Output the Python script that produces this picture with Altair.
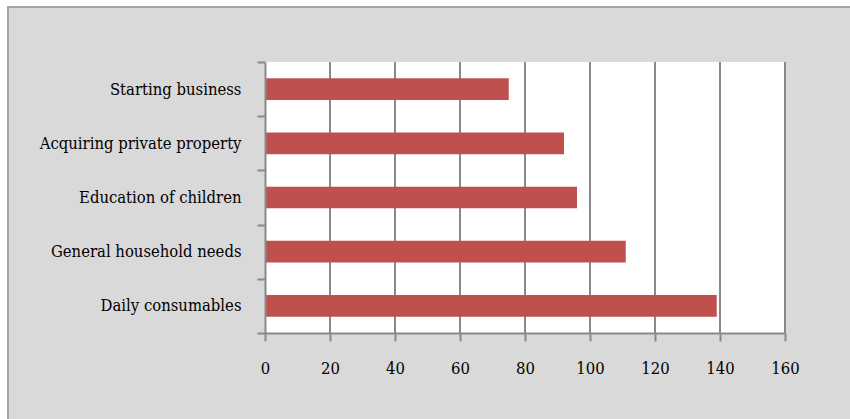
import altair as alt
import pandas as pd

# Reasons for taking loans (number of respondents)
categories = [
    "Starting business",
    "Acquiring private property",
    "Education of children",
    "General household needs",
    "Daily consumables",
]
counts = [75, 92, 96, 111, 139]
x_ticks = [0, 20, 40, 60, 80, 100, 120, 140, 160]

W, H = 520, 271
FONT = "DejaVu Serif Condensed"
BAR = "#c0504d"
GRID = "#898989"

bars_df = pd.DataFrame({"purpose": categories, "count": counts})
grid_df = pd.DataFrame({"tick": x_ticks[1:]})

# outer grey panel with its border
frame = alt.Chart(pd.DataFrame({"k": [0]})).mark_rect(
    fill="#d9d9d9", stroke="#a6a6a6", strokeWidth=2
).encode(
    x=alt.value(-257), x2=alt.value(620),
    y=alt.value(-55), y2=alt.value(400),
)

# white plotting area
plot_bg = alt.Chart(pd.DataFrame({"k": [0]})).mark_rect(fill="white").encode(
    x=alt.value(0), x2=alt.value(W), y=alt.value(0), y2=alt.value(H)
)

x_scale = alt.Scale(domain=[0, 160], nice=False)

# vertical gridlines behind the bars
grid = alt.Chart(grid_df).mark_rule(color=GRID, strokeWidth=2).encode(
    x=alt.X("tick:Q", scale=x_scale),
    y=alt.value(0), y2=alt.value(H),
)

bars = alt.Chart(bars_df).mark_bar(
    color=BAR, height=alt.RelativeBandSize(0.4)
).encode(
    x=alt.X(
        "count:Q", scale=x_scale,
        axis=alt.Axis(
            values=x_ticks, title=None, grid=False, tickSize=8,
            tickColor=GRID, tickWidth=2, domainColor=GRID, domainWidth=2,
            labelFont=FONT, labelFontSize=16.5, labelColor="black",
            labelPadding=19, labelFlush=False, zindex=1,
        ),
    ),
    y=alt.Y(
        "purpose:N", sort=categories,
        scale=alt.Scale(paddingInner=0, paddingOuter=0),
        axis=alt.Axis(
            title=None, tickBand="extent", tickSize=8, tickColor=GRID,
            tickWidth=2, domainColor=GRID, domainWidth=2,
            labelFont=FONT, labelFontSize=16.5, labelColor="black",
            labelPadding=16, zindex=1, labelLimit=300,
        ),
    ),
)

chart = alt.layer(frame, plot_bg, grid, bars).properties(
    width=W, height=H,
    padding={"left": 265, "top": 62, "right": 65, "bottom": 86},
    autosize=alt.AutoSizeParams(type="none"),
    background="white",
).configure_view(stroke=None)

chart.save("out.html", embed_options={"renderer": "svg", "actions": False})
